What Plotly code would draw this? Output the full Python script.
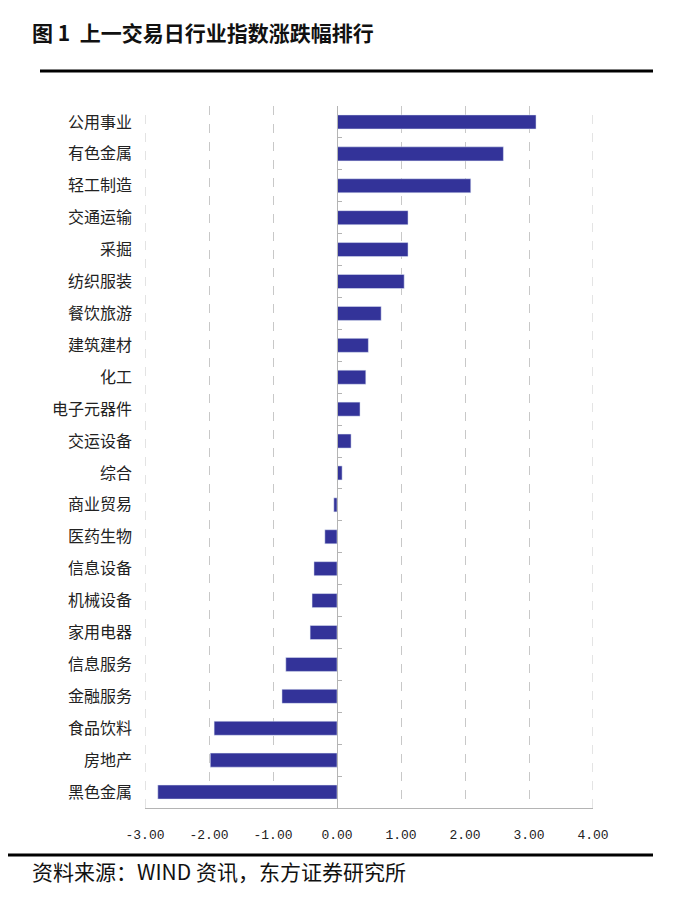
import plotly.graph_objects as go

categories = ["公用事业", "有色金属", "轻工制造", "交通运输", "采掘", "纺织服装", "餐饮旅游",
              "建筑建材", "化工", "电子元器件", "交运设备", "综合", "商业贸易", "医药生物",
              "信息设备", "机械设备", "家用电器", "信息服务", "金融服务", "食品饮料", "房地产", "黑色金属"]
values = [3.11, 2.60, 2.09, 1.11, 1.11, 1.05, 0.69, 0.49, 0.45, 0.36, 0.22, 0.08,
          -0.05, -0.19, -0.36, -0.39, -0.42, -0.80, -0.86, -1.92, -1.98, -2.80]
x_ticks = [-3, -2, -1, 0, 1, 2, 3, 4]
x_ticktext = ["-3.00", "-2.00", "-1.00", "0.00", "1.00", "2.00", "3.00", "4.00"]
title_text = "图 1  上一交易日行业指数涨跌幅排行"
source_text = "资料来源：WIND 资讯，东方证券研究所"

OFF = 8  # default page body margin
W, H = 683 - 2 * OFF, 897 - 2 * OFF
# plot area in page px
PL, PR, PT, PB = 145, 593, 106, 808
L, R, T, B = PL - OFF, PR - OFF, PT - OFF, PB - OFF


def px(x):  # page px -> paper x
    return (x - PL) / (PR - PL)


def py(y):  # page px -> paper y
    return (PB - y) / (PB - PT)


CJK = "Noto Sans CJK SC"
BAR = "#333399"
AX = "#b4b4b4"
GRID = "#c8c8c8"

fig = go.Figure()
fig.add_trace(go.Bar(x=values, y=categories, orientation="h",
                     marker=dict(color=BAR, line=dict(width=0)),
                     width=0.44, hoverinfo="x+y"))
fig.add_trace(go.Bar(x=values, y=categories, orientation="h", yaxis="y2",
                     marker=dict(color="rgba(0,0,0,0)"), width=0.44, hoverinfo="skip",
                     showlegend=False))

xmin, xmax = x_ticks[0], x_ticks[-1]
edge_grid = [dict(type="line", xref="x", yref="paper", x0=v, x1=v, y0=0, y1=1,
                  line=dict(color=GRID, width=1, dash="dash"), layer="below")
             for v in (xmin, xmax)]

fig.update_layout(
    width=W, height=H,
    margin=dict(l=L, r=W - R, t=T, b=H - B),
    paper_bgcolor="white", plot_bgcolor="white",
    showlegend=False, barmode="overlay",
    xaxis=dict(range=[xmin, xmax], tickvals=x_ticks, ticktext=x_ticktext,
               showgrid=True, gridcolor=GRID, griddash="dash", gridwidth=1,
               zeroline=False, showline=True, linecolor=AX, linewidth=1,
               ticks="", ticklabelstandoff=14,
               tickfont=dict(family="Liberation Mono", size=13, color="#222")),
    yaxis=dict(categoryorder="array", categoryarray=categories[::-1],
               autorange=False, range=[-0.5, len(categories) - 0.5],
               showgrid=False, zeroline=False, showline=False, ticks="",
               ticklabelstandoff=12,
               tickfont=dict(family=CJK, size=16, color="#222")),
    yaxis2=dict(overlaying="y", anchor="free", position=px(337),
                categoryorder="array", categoryarray=categories[::-1],
                autorange=False, range=[-0.5, len(categories) - 0.5],
                showgrid=False, zeroline=False, showline=True, linecolor=AX,
                linewidth=1, ticks="inside", ticklen=4, tickcolor=AX,
                tickson="boundaries", showticklabels=False),
    annotations=[
        dict(text=title_text, xref="paper", yref="paper", x=px(30), y=py(32),
             xanchor="left", yanchor="middle", showarrow=False,
             font=dict(family=CJK, size=21, color="#111", weight="bold")),
        dict(text=source_text, xref="paper", yref="paper", x=px(30), y=py(871),
             xanchor="left", yanchor="middle", showarrow=False,
             font=dict(family=CJK, size=21, color="#111")),
    ],
    shapes=edge_grid + [
        dict(type="line", xref="paper", yref="paper", x0=px(40), x1=px(653),
             y0=py(71), y1=py(71), line=dict(color="black", width=3)),
        dict(type="line", xref="paper", yref="paper", x0=px(8), x1=px(653),
             y0=py(855), y1=py(855), line=dict(color="black", width=3)),
    ],
)

fig.write_html("out.html")
